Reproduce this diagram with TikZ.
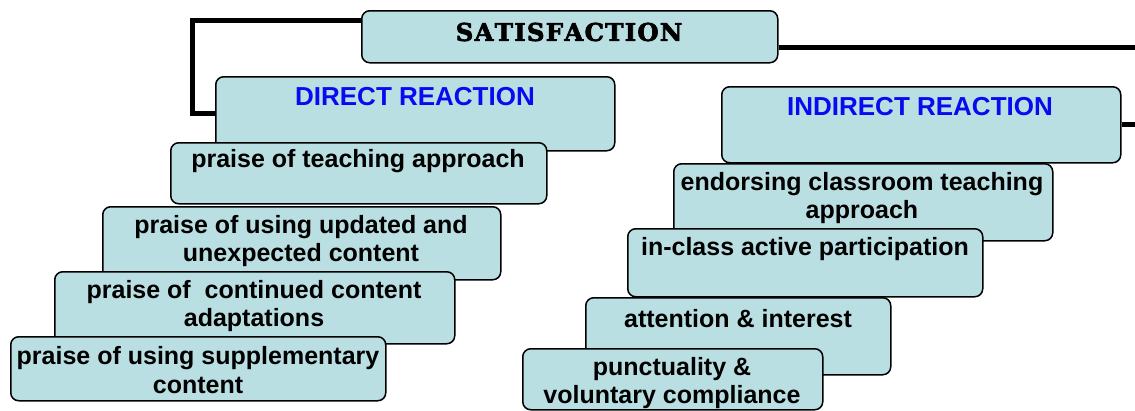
\documentclass[tikz,border=0pt]{standalone}
\usepackage{fontspec}
\setmainfont{Liberation Sans}
\newfontfamily\satfont{DejaVu Serif Bold}[FakeBold=2.5]
\usetikzlibrary{backgrounds}
\definecolor{boxfill}{HTML}{BADFE3}
\definecolor{headblue}{HTML}{0A0AF0}
\tikzset{
  box/.style={draw=black, line width=1.5pt, rounded corners=8pt, fill=boxfill, anchor=north west, inner sep=0pt},
  conn/.style={draw=black, line width=5pt},
  itemtxt/.style={font=\fontsize{25}{28.5}\selectfont\bfseries, align=center, inner sep=0pt, text=black},
  headtxt/.style={font=\fontsize{26}{29}\selectfont\bfseries, text=headblue, inner sep=0pt},
  sattxt/.style={font=\satfont\fontsize{24.5}{26}\selectfont, inner sep=0pt}
}
\begin{document}
\begin{tikzpicture}[x=1pt,y=-1pt]
\useasboundingbox (0,0) rectangle (1135,410);
\coordinate (e1) at (1135,47);
\coordinate (e2) at (1135,124);
% boxes
\node[box, minimum width=416, minimum height=52] (sat) at (361,10) {};
\node[box, minimum width=399, minimum height=74] (dir) at (215,76) {};
\node[box, minimum width=399, minimum height=76] (ind) at (721,86) {};
\node[box, minimum width=376, minimum height=61] (b1) at (170,142) {};
\node[box, minimum width=398, minimum height=73] (b2) at (102,206) {};
\node[box, minimum width=400, minimum height=72] (b3) at (54,271) {};
\node[box, minimum width=375, minimum height=64] (b4) at (10,336) {};
\node[box, minimum width=379, minimum height=77] (c1) at (673,163) {};
\node[box, minimum width=355, minimum height=68] (c2) at (627,228) {};
\node[box, minimum width=305, minimum height=77] (c3) at (585,297) {};
\node[box, minimum width=300, minimum height=61] (c4) at (522,348) {};
% connectors behind the boxes
\begin{scope}[on background layer]
\draw[conn] ([yshift=-10pt]sat.north west) -- ++(-169,0) |- ([yshift=-37pt]dir.north west);
\draw[conn] (sat.east |- e1) -- (e1);
\draw[conn] (ind.east |- e2) -- (e2);
\end{scope}
% texts
\node[sattxt] (tsat) at (569,32) {S\kern1.2pt A\kern1.2pt T\kern1.2pt I\kern1.2pt S\kern1.2pt F\kern1.2pt A\kern1.2pt C\kern1.2pt T\kern1.2pt I\kern1.2pt O\kern1.2pt N};
\node[headtxt] (tdir) at (415,97) {DIRECT REACTION};
\node[headtxt] (tind) at (920,107) {INDIRECT REACTION};
\node[itemtxt] (tb1) at (358,161) {praise of teaching approach};
\node[itemtxt] (tb2) at (301,241) {praise of using updated and\\unexpected content};
\node[itemtxt] (tb3) at (254,306) {praise of\ \ continued content\\adaptations};
\node[itemtxt] (tb4) at (198,370) {praise of using supplementary\\content};
\node[itemtxt] (tc1) at (862,198) {endorsing classroom teaching\\approach};
\node[itemtxt] (tc2) at (805,249) {in-class active participation};
\node[itemtxt] (tc3) at (738,319) {attention \& interest};
\node[itemtxt] (tc4) at (672,383) {punctuality \&\\voluntary compliance};
\end{tikzpicture}
\end{document}
